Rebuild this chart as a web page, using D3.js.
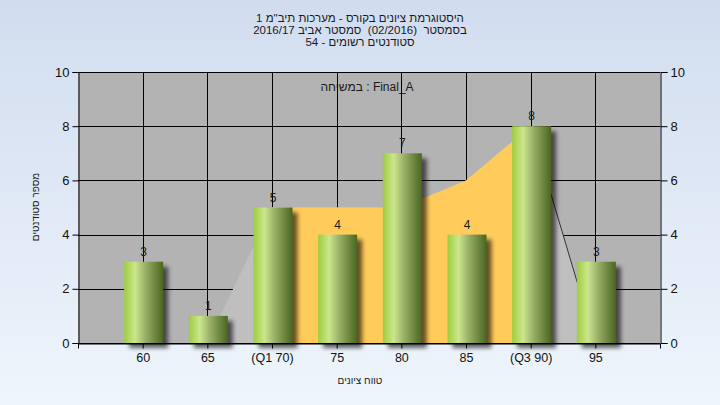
<!DOCTYPE html>
<html><head><meta charset="utf-8">
<script src="https://cdn.jsdelivr.net/npm/d3@7"></script>
<style>
body{margin:0;background:#fff;}
svg{display:block;font-family:"Liberation Sans",Arial,sans-serif;}
text{white-space:pre;}
</style>
</head><body>
<svg id="c" width="720" height="405"></svg>
<script>
const categories = ["60","65","70","75","80","85","90","95"];
const tickLabels = ["60","65","(Q1 70)","75","80","85","(Q3 90)","95"];
const counts = [3,1,5,4,7,4,8,3];
const backgroundArea = [0,0,5,5,5,6,8,0];
const quartileArea = [null,null,5,5,5,6,8,null];
const yTicks = [0,2,4,6,8,10];
const titleLines = [
  "היסטוגרמת ציונים בקורס - מערכות תיב\"מ 1",
  "בסמסטר  (02/2016)  סמסטר אביב 2016/17",
  "סטודנטים רשומים - 54"
];
const legendText = "במשיחה : Final_A";
const xTitle = "טווח ציונים";
const yTitle = "מספר סטודנטים";

const W = 720, H = 405;
const m = {l:78, r:660, t:72, b:343};
const svg = d3.select("#c");
const defs = svg.append("defs");

const bg = defs.append("linearGradient").attr("id","bg").attr("x1",0).attr("x2",0).attr("y1",0).attr("y2",1);
bg.append("stop").attr("offset","0%").attr("stop-color","#d1ddef");
bg.append("stop").attr("offset","100%").attr("stop-color","#eef5fc");

const bar = defs.append("linearGradient").attr("id","bar").attr("x1",0).attr("x2",1).attr("y1",0).attr("y2",0);
[["0%","#9dcd3e"],["28%","#cce68e"],["55%","#97ae66"],["100%","#4a6620"]].forEach(s=>
  bar.append("stop").attr("offset",s[0]).attr("stop-color",s[1]));

const f = defs.append("filter").attr("id","blur").attr("x","-30%").attr("y","-30%").attr("width","160%").attr("height","160%");
f.append("feGaussianBlur").attr("stdDeviation",2);

svg.append("rect").attr("width",W).attr("height",H).attr("fill","url(#bg)");

const x = d3.scalePoint().domain(categories).range([m.l, m.r]).padding(1);
const y = d3.scaleLinear().domain([0,10]).range([m.b, m.t]);

// plot background
svg.append("rect").attr("x",m.l).attr("y",m.t).attr("width",m.r-m.l).attr("height",m.b-m.t).attr("fill","#b3b3b3");

// titles
const tg = svg.append("g").attr("fill","#1a1a1a").attr("font-size",11.5).attr("text-anchor","middle");
titleLines.forEach((ln,i)=>{
  tg.append("text").attr("x",360).attr("y",22+i*12).attr("direction","rtl").text(ln);
});

// legend text
svg.append("text").attr("x",367).attr("y",91).attr("text-anchor","middle").attr("font-size",12)
  .attr("fill","#1a1a1a").text(legendText);

// gridlines
const grid = svg.append("g").attr("stroke","#000").attr("stroke-width",1);
yTicks.forEach(t=>{
  grid.append("line").attr("x1",m.l).attr("x2",m.r).attr("y1",Math.round(y(t))+0.5).attr("y2",Math.round(y(t))+0.5);
});
categories.forEach(c=>{
  grid.append("line").attr("x1",Math.round(x(c))+0.5).attr("x2",Math.round(x(c))+0.5).attr("y1",m.t).attr("y2",m.b);
});

// areas
const pts = backgroundArea.map((v,i)=>({c:categories[i], v}));
svg.append("path").datum(pts)
  .attr("d", d3.area().x(d=>x(d.c)).y0(y(0)).y1(d=>y(d.v)))
  .attr("fill","#bfbfbf");
svg.append("path").datum(pts.slice(-2))
  .attr("d", d3.line().x(d=>x(d.c)).y(d=>y(d.v)))
  .attr("fill","none").attr("stroke","#333").attr("stroke-width",1);
const qpts = quartileArea.map((v,i)=>({c:categories[i], v})).filter(d=>d.v!==null);
svg.append("path").datum(qpts)
  .attr("d", d3.area().x(d=>x(d.c)).y0(y(0)).y1(d=>y(d.v)))
  .attr("fill","#ffcb5a");

// axes
const axL = svg.append("g").attr("transform",`translate(${m.l+0.5},0)`)
  .call(d3.axisLeft(y).tickValues(yTicks).tickSize(6).tickPadding(3).tickFormat(d3.format("d")));
const axR = svg.append("g").attr("transform",`translate(${m.r+0.5},0)`)
  .call(d3.axisRight(y).tickValues(yTicks).tickSize(7).tickPadding(3).tickFormat(d3.format("d")));
const axB = svg.append("g").attr("transform",`translate(0,${m.b+0.5})`)
  .call(d3.axisBottom(x).tickSize(5).tickPadding(5).tickFormat((d,i)=>tickLabels[i]));
[axL,axR,axB].forEach(a=>{
  a.select(".domain").attr("stroke","#000");
  a.selectAll(".tick line").attr("stroke","#000");
  a.selectAll("text").attr("fill","#111").attr("font-size",13).attr("font-family","Liberation Sans, Arial, sans-serif");
});
axB.selectAll("text").attr("font-size",12.5);
svg.append("line").attr("x1",m.l).attr("x2",m.r).attr("y1",m.t+0.5).attr("y2",m.t+0.5).attr("stroke","#000");

// bars
const bw = 39;
const bars = svg.append("g");
const data = counts.map((v,i)=>({c:categories[i], v}));
bars.selectAll("rect.sh").data(data).join("rect").attr("class","sh")
  .attr("x",d=>x(d.c)-bw/2+1+5).attr("y",d=>y(d.v)+5)
  .attr("width",bw).attr("height",d=>y(0)-y(d.v))
  .attr("fill","#000").attr("opacity",0.6).attr("filter","url(#blur)");
bars.selectAll("rect.b").data(data).join("rect").attr("class","b")
  .attr("x",d=>x(d.c)-bw/2+1).attr("y",d=>y(d.v))
  .attr("width",bw).attr("height",d=>y(0)-y(d.v))
  .attr("fill","url(#bar)");
svg.append("line").attr("x1",m.l).attr("x2",m.r).attr("y1",m.b+0.5).attr("y2",m.b+0.5).attr("stroke","#000");

bars.selectAll("text").data(data).join("text")
  .attr("x",d=>x(d.c)+1).attr("y",d=>y(d.v)-6)
  .attr("text-anchor","middle").attr("font-size",12).attr("fill","#1a1a1a")
  .text(d=>d.v);

// axis titles
svg.append("text").attr("x",360).attr("y",384).attr("text-anchor","middle").attr("font-size",10)
  .attr("direction","rtl").attr("fill","#1a1a1a").text(xTitle);
svg.append("text").attr("transform","translate(39,207) rotate(-90)").attr("text-anchor","middle")
  .attr("direction","rtl").attr("font-size",10).attr("fill","#1a1a1a").text(yTitle);
</script>
</body></html>
